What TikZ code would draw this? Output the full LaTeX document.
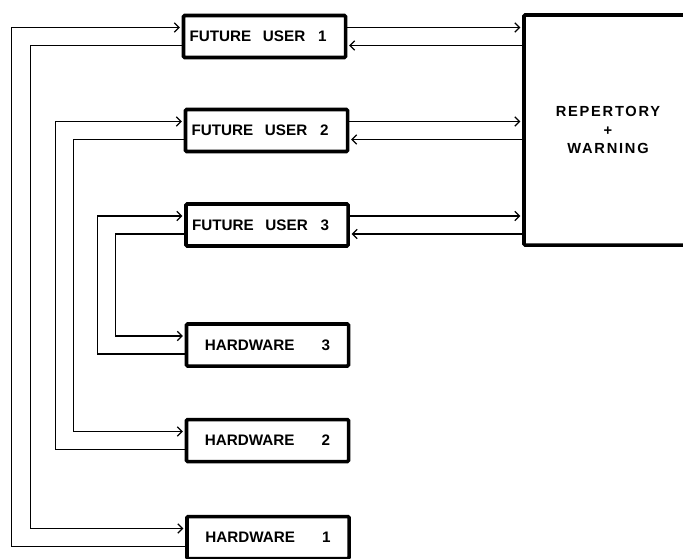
\documentclass[tikz,border=0pt]{standalone}
\usepackage{fontspec}
\setmainfont{Liberation Sans}
\newfontfamily\widefont[LetterSpace=12]{Liberation Sans}
\usetikzlibrary{arrows.meta,calc}

\tikzset{
  unit/.style={draw, line width=3pt, rounded corners=1pt, minimum width=4.86cm,
    minimum height=1.26cm, font=\bfseries\fontsize{13}{15}\selectfont},
  user/.style={unit, text width=4.5cm, align=left},
  link/.style={line width=1.1pt, shorten >=1.5pt}
}

\begin{document}
\begin{tikzpicture}[>={Straight Barb[length=4pt,width=8pt]}, x=0.03cm, y=-0.03cm]
\useasboundingbox (0,0) rectangle (683,558);

\node[user] (fu1) at (264.5,36.5) {FUTURE\hspace{10pt}USER\hspace{11pt}1};
\node[user] (fu2) at (266.5,130.5) {FUTURE\hspace{10pt}USER\hspace{11pt}2};
\node[user] (fu3) at (267,225) {FUTURE\hspace{10pt}USER\hspace{11pt}3};
\node[unit] (hw3) at (267.5,345) {HARDWARE\hspace{23pt}3};
\node[unit] (hw2) at (267.5,440.5) {HARDWARE\hspace{23pt}2};
\node[unit] (hw1) at (268,537.5) {HARDWARE\hspace{23pt}1};
\node[unit, minimum width=5.04cm, minimum height=6.9cm, align=center,
  font=\widefont\bfseries\fontsize{12.5}{16}\selectfont] (rep) at (608,130) {REPERTORY\\+\\WARNING};

\draw[->, link] ($(hw1.west)+(0,9)$) -- ++(-174,0) |- ($(fu1.west)+(0,-9)$);
\draw[->, link] ($(fu1.west)+(0,9)$) -- ++(-151.5,0) |- ($(hw1.west)+(0,-9)$);
\draw[->, link] ($(hw2.west)+(0,9)$) -- ++(-129.5,0) |- ($(fu2.west)+(0,-9)$);
\draw[->, link] ($(fu2.west)+(0,9)$) -- ++(-110.5,0) |- ($(hw2.west)+(0,-9)$);
\draw[->, link] ($(hw3.west)+(0,9)$) -- ++(-87.5,0) |- ($(fu3.west)+(0,-9)$);
\draw[->, link] ($(fu3.west)+(0,9)$) -- ++(-69,0) |- ($(hw3.west)+(0,-9)$);

\draw[->, link] ($(fu1.east)+(0,-9)$) -- ($(fu1.east -| rep.west)+(0,-9)$);
\draw[->, link] ($(fu1.east -| rep.west)+(0,9)$) -- ($(fu1.east)+(0,9)$);
\draw[->, link] ($(fu2.east)+(0,-9)$) -- ($(fu2.east -| rep.west)+(0,-9)$);
\draw[->, link] ($(fu2.east -| rep.west)+(0,9)$) -- ($(fu2.east)+(0,9)$);
\draw[->, link] ($(fu3.east)+(0,-9)$) -- ($(fu3.east -| rep.west)+(0,-9)$);
\draw[->, link] ($(fu3.east -| rep.west)+(0,9)$) -- ($(fu3.east)+(0,9)$);

\end{tikzpicture}
\end{document}
